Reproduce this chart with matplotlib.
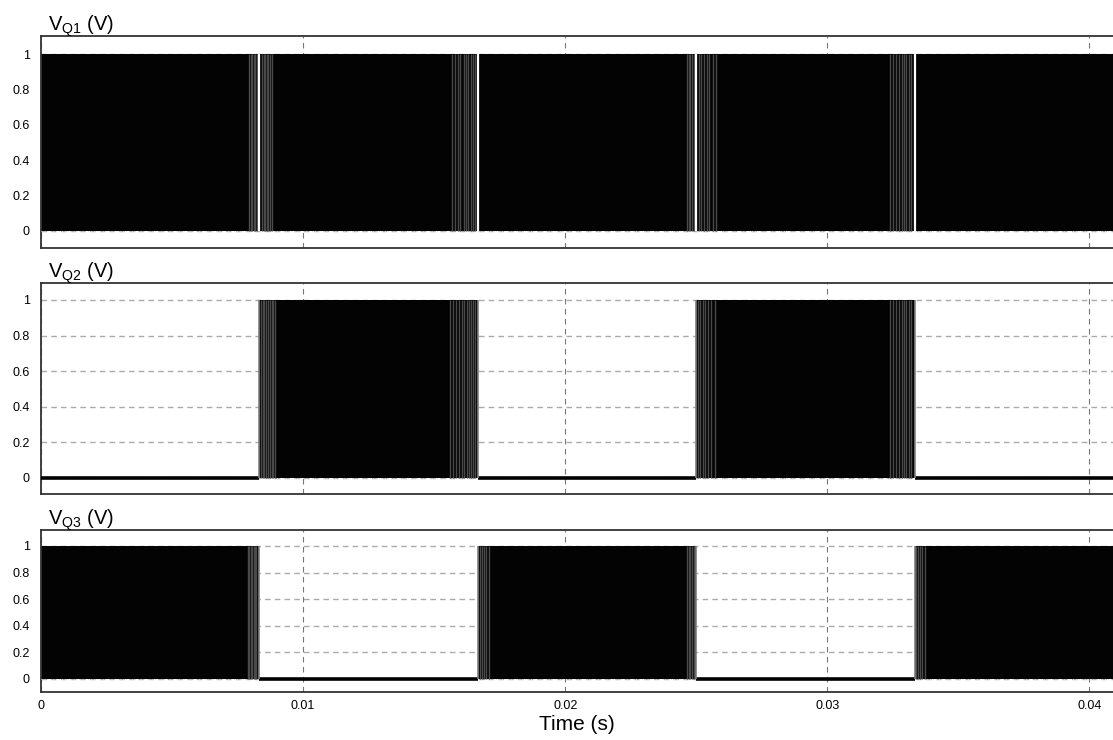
import matplotlib
matplotlib.use("Agg")
import matplotlib.pyplot as plt

plt.rcParams['font.family'] = ['Liberation Sans', 'DejaVu Sans']
plt.rcParams['mathtext.default'] = 'regular'

# Time axis
t_max = 0.0409
x_ticks = [0, 0.01, 0.02, 0.03, 0.04]
x_tick_labels = ['0', '0.01', '0.02', '0.03', '0.04']
y_ticks = [0, 0.2, 0.4, 0.6, 0.8, 1]
y_tick_labels = ['0', '0.2', '0.4', '0.6', '0.8', '1']

# Half-cycle boundaries of the 60 Hz reference (s)
edges = [0.0, 0.00833, 0.01667, 0.025, 0.03333, 0.0409]

# Switching state of each gate signal per half cycle (1 = PWM active, 0 = off)
q1_state = [1, 1, 1, 1, 1]
q2_state = [0, 1, 0, 1, 0]
q3_state = [1, 0, 1, 0, 1]

# Narrow off-pulses close to the zero crossings (s)
q1_notches = [0.00794, 0.00800, 0.00805, 0.00811, 0.00817, 0.00824,
              0.00844, 0.00850, 0.00855, 0.00861, 0.00866, 0.00874, 0.00882,
              0.01569, 0.01580, 0.01590, 0.01600, 0.01612, 0.01622, 0.01630, 0.01640, 0.01648, 0.01656,
              0.02466, 0.02472, 0.02478, 0.02484, 0.02490,
              0.02512, 0.02520, 0.02530, 0.02540, 0.02550, 0.02562, 0.02575,
              0.03240, 0.03250, 0.03262, 0.03272, 0.03285, 0.03292, 0.03300, 0.03310, 0.03318]
q2_notches = [0.00840, 0.00846, 0.00852, 0.00860, 0.00866, 0.00872, 0.00880, 0.00886, 0.00892,
              0.01562, 0.01572, 0.01585, 0.01595, 0.01605, 0.01615, 0.01625, 0.01632, 0.01640, 0.01648, 0.01655,
              0.02508, 0.02516, 0.02525, 0.02535, 0.02545, 0.02557, 0.02570,
              0.03240, 0.03250, 0.03262, 0.03272, 0.03285, 0.03292, 0.03300, 0.03310, 0.03318]
q3_notches = [0.00790, 0.00795, 0.00800, 0.00806, 0.00812, 0.00817, 0.00822,
              0.01675, 0.01682, 0.01690, 0.01698, 0.01708,
              0.02466, 0.02472, 0.02478, 0.02484, 0.02490,
              0.03340, 0.03347, 0.03355, 0.03363, 0.03372]

titles = ['$V_{Q1}$ (V)', '$V_{Q2}$ (V)', '$V_{Q3}$ (V)']
states = [q1_state, q2_state, q3_state]
notches = [q1_notches, q2_notches, q3_notches]

W, H = 1113, 740
fig = plt.figure(figsize=(W / 100, H / 100), dpi=100)

# axes boxes in pixels: (top, bottom)
boxes = [(36, 248), (283, 494), (530, 692)]
ylims = [(-0.097, 1.102), (-0.09, 1.095), (-0.098, 1.12)]
left_px = 41

axes = []
for k, (top, bot) in enumerate(boxes):
    ax = fig.add_axes([left_px / W, 1 - bot / H, (W - left_px) / W, (bot - top) / H])
    axes.append(ax)
    ax.set_xlim(0, t_max)
    ax.set_ylim(*ylims[k])
    ax.set_xticks(x_ticks)
    ax.set_yticks(y_ticks)
    ax.set_yticklabels(y_tick_labels)
    ax.tick_params(length=0, labelsize=9, pad=8, axis='y')
    ax.tick_params(length=0, labelsize=9, pad=6, axis='x')
    if k < 2:
        ax.set_xticklabels([])
    else:
        ax.set_xticklabels(x_tick_labels)
    ax.set_axisbelow(True)
    ax.grid(axis='y', color='#aaaaaa', linestyle=(0, (4, 3)), linewidth=1.0)
    ax.grid(axis='x', color='#777777', linestyle=(0, (5, 4)), linewidth=0.8)
    for side in ('top', 'bottom', 'left'):
        ax.spines[side].set_color('#333333')
        ax.spines[side].set_linewidth(1.3)
    ax.spines['right'].set_visible(False)

    st = states[k]
    for i, s in enumerate(st):
        a, b = edges[i], edges[i + 1]
        if s:
            ax.fill_between([a, b], 0, 1, color='#030303', linewidth=0, zorder=2)
            ax.hlines(0, a, b, colors='#dddddd', linestyles=(0, (1, 2)), linewidth=0.7, zorder=3)
        else:
            ax.hlines(0, a, b, colors='black', linewidth=2.6, zorder=3)
    # transitions between active and idle half cycles
    for i in range(1, len(st)):
        if st[i] != st[i - 1]:
            ax.vlines(edges[i], 0, 1, colors='#808080', linewidth=1.2, zorder=4)
    ax.vlines(notches[k], 0, 1, colors='#4a4a4a', linewidth=1.0, zorder=3)
    if k == 0:
        ax.vlines(edges[1:5], 0, 1, colors='white', linewidth=1.6, zorder=4)

    fig.text(48 / W, 1 - (top - 5) / H, titles[k], fontsize=14.5, ha='left', va='baseline')

axes[2].set_xlabel('Time (s)', fontsize=15, labelpad=2)

fig.savefig('out.png', dpi=100)
